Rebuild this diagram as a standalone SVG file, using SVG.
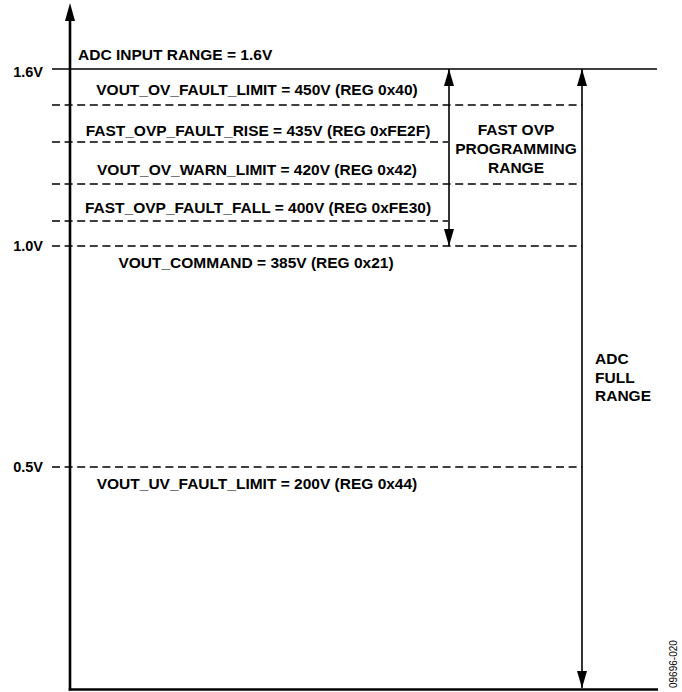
<svg xmlns="http://www.w3.org/2000/svg" width="682" height="692" viewBox="0 0 682 692">
<style>
.t{font-family:"Liberation Sans",Arial,sans-serif;font-weight:bold;font-size:15.5px;fill:#000}
.ax{font-family:"Liberation Sans",Arial,sans-serif;font-weight:bold;font-size:14.5px;fill:#000}
.d{stroke:#000;stroke-width:1.5;stroke-dasharray:8 4.6;fill:none}
.s{stroke:#000;stroke-width:1.6;fill:none}
.a{stroke:#000;stroke-width:1.6;fill:none;marker-start:url(#ah);marker-end:url(#ah)}
</style>
<defs>
<marker id="ah" markerUnits="userSpaceOnUse" markerWidth="17" markerHeight="10" refX="17" refY="5" orient="auto-start-reverse">
<path d="M0,0 L17,5 L0,10 z" fill="#000"/>
</marker>
</defs>
<rect width="682" height="692" fill="#fff"/>
<g id="axes">
<line x1="70" y1="18" x2="70" y2="690.5" stroke="#000" stroke-width="2.6"/>
<polygon points="70,3 65,21 75,21" fill="#000"/>
<line x1="68.7" y1="689.5" x2="658" y2="689.5" stroke="#000" stroke-width="2.4"/>
</g>
<g id="levels">
<line class="s" x1="52" y1="69" x2="657" y2="69"/>
<line class="d" x1="52" y1="105" x2="582" y2="105"/>
<line class="d" x1="52" y1="142" x2="448" y2="142"/>
<line class="d" x1="52" y1="184" x2="582" y2="184"/>
<line class="d" x1="52" y1="221" x2="448" y2="221"/>
<line class="d" x1="52" y1="246" x2="582" y2="246"/>
<line class="d" x1="52" y1="467" x2="582" y2="467"/>
</g>
<g id="connectors">
<line class="a" x1="449" y1="69" x2="449" y2="246"/>
<line class="a" x1="582" y1="69" x2="582" y2="688"/>
</g>
<g id="axis-labels">
<text class="ax" x="43" y="77" text-anchor="end">1.6V</text>
<text class="ax" x="43" y="251" text-anchor="end">1.0V</text>
<text class="ax" x="43" y="472" text-anchor="end">0.5V</text>
</g>
<g id="level-labels">
<text class="t" x="78" y="60">ADC INPUT RANGE = 1.6V</text>
<text class="t" x="257" y="95" text-anchor="middle">VOUT_OV_FAULT_LIMIT = 450V (REG 0x40)</text>
<text class="t" x="258" y="136" text-anchor="middle">FAST_OVP_FAULT_RISE = 435V (REG 0xFE2F)</text>
<text class="t" x="257" y="175" text-anchor="middle">VOUT_OV_WARN_LIMIT = 420V (REG 0x42)</text>
<text class="t" x="258" y="213" text-anchor="middle">FAST_OVP_FAULT_FALL = 400V (REG 0xFE30)</text>
<text class="t" x="256" y="268" text-anchor="middle">VOUT_COMMAND = 385V (REG 0x21)</text>
<text class="t" x="257" y="489" text-anchor="middle">VOUT_UV_FAULT_LIMIT = 200V (REG 0x44)</text>
</g>
<g id="fast-ovp-range">
<text class="t" x="516" y="135" text-anchor="middle">FAST OVP</text>
<text class="t" x="516" y="154" text-anchor="middle">PROGRAMMING</text>
<text class="t" x="516" y="173" text-anchor="middle">RANGE</text>
</g>
<g id="adc-full-range">
<text class="t" x="595" y="364">ADC</text>
<text class="t" x="595" y="383">FULL</text>
<text class="t" x="595" y="401">RANGE</text>
</g>
<text x="0" y="0" transform="translate(677,688) rotate(-90)" font-family="Liberation Sans,Arial,sans-serif" font-size="10" fill="#000">09696-020</text>
</svg>
